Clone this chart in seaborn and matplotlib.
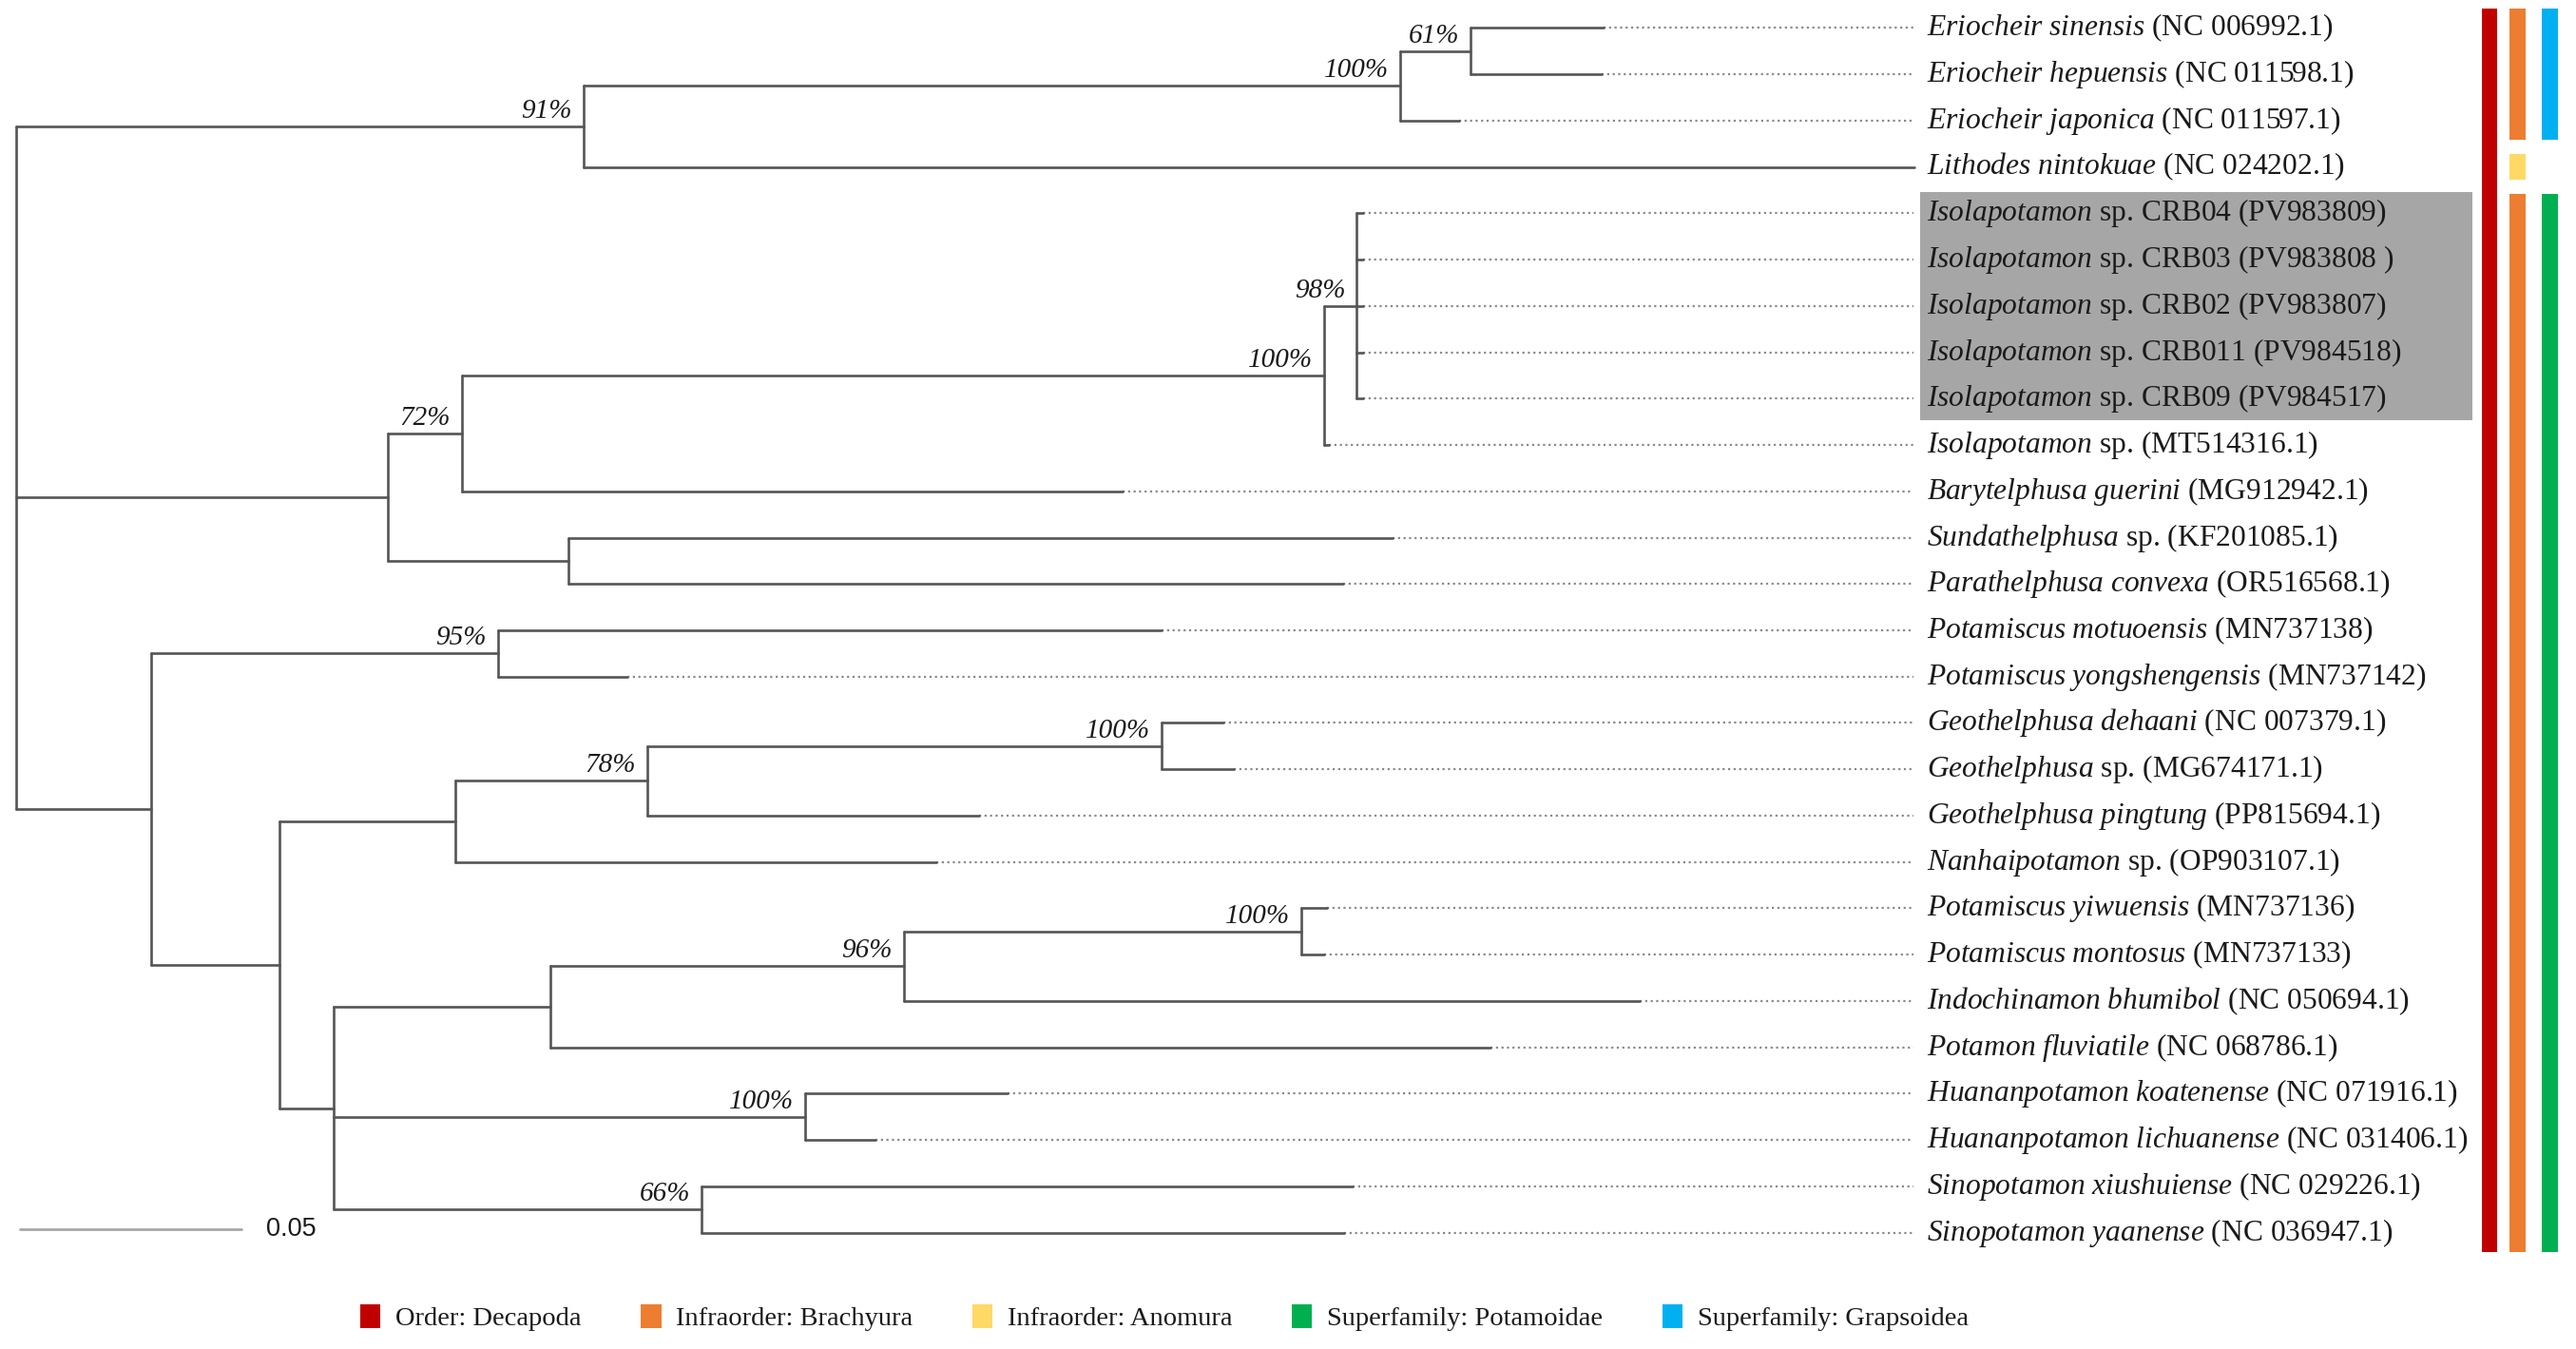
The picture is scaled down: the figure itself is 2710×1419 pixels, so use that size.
import matplotlib
matplotlib.use('Agg')
import pandas as pd
import matplotlib.pyplot as plt
from matplotlib.patches import Patch, Rectangle
import seaborn as sns

# internal nodes of the tree (parents listed before children), branch length in subst./site
node_names = ['root', 'n91', 'n_erio', 'n61', 'n_ib', 'n72', 'n_iso', 'n98', 'n_sunda',
              'n_pot', 'n95', 'n_rest', 'n_gn', 'n78', 'n_geo2', 'n_tri', 'n_pi', 'n96',
              'n_pyiw', 'n_huan', 'n66']
node_parents = [None, 'root', 'n91', 'n_erio', 'root', 'n_ib', 'n72', 'n_iso', 'n_ib',
                'root', 'n_pot', 'n_pot', 'n_rest', 'n_gn', 'n78', 'n_rest', 'n_tri', 'n_pi',
                'n96', 'n_tri', 'n_tri']
node_lengths = [0.0, 0.1278, 0.1841, 0.0159, 0.0837, 0.0167, 0.1944, 0.0074, 0.0407,
                0.0304, 0.0781, 0.0289, 0.0396, 0.0433, 0.1159, 0.0122, 0.0489, 0.0796,
                0.0896, 0.1063, 0.0830]
node_support = ['', '91%', '100%', '61%', '', '72%', '100%', '98%', '',
                '', '95%', '', '', '78%', '100%', '', '', '96%',
                '100%', '100%', '66%']

# tips, top to bottom
tip_italic = ['Eriocheir sinensis', 'Eriocheir hepuensis', 'Eriocheir japonica',
              'Lithodes nintokuae', 'Isolapotamon', 'Isolapotamon', 'Isolapotamon',
              'Isolapotamon', 'Isolapotamon', 'Isolapotamon', 'Barytelphusa guerini',
              'Sundathelphusa', 'Parathelphusa convexa', 'Potamiscus motuoensis',
              'Potamiscus yongshengensis', 'Geothelphusa dehaani', 'Geothelphusa',
              'Geothelphusa pingtung', 'Nanhaipotamon', 'Potamiscus yiwuensis',
              'Potamiscus montosus', 'Indochinamon bhumibol', 'Potamon fluviatile',
              'Huananpotamon koatenense', 'Huananpotamon lichuanense',
              'Sinopotamon xiushuiense', 'Sinopotamon yaanense']
tip_rest = ['(NC 006992.1)', '(NC 011598.1)', '(NC 011597.1)', '(NC 024202.1)',
            'sp. CRB04 (PV983809)', 'sp. CRB03 (PV983808 )', 'sp. CRB02 (PV983807)',
            'sp. CRB011 (PV984518)', 'sp. CRB09 (PV984517)', 'sp. (MT514316.1)',
            '(MG912942.1)', 'sp. (KF201085.1)', '(OR516568.1)', '(MN737138)',
            '(MN737142)', '(NC 007379.1)', 'sp. (MG674171.1)', '(PP815694.1)',
            'sp. (OP903107.1)', '(MN737136)', '(MN737133)', '(NC 050694.1)',
            '(NC 068786.1)', '(NC 071916.1)', '(NC 031406.1)', '(NC 029226.1)',
            '(NC 036947.1)']
tip_parents = ['n61', 'n61', 'n_erio', 'n91', 'n98', 'n98', 'n98', 'n98', 'n98', 'n_iso',
               'n72', 'n_sunda', 'n_sunda', 'n95', 'n95', 'n_geo2', 'n_geo2', 'n78', 'n_gn',
               'n_pyiw', 'n_pyiw', 'n96', 'n_pi', 'n_huan', 'n_huan', 'n66', 'n66']
tip_lengths = [0.0300, 0.0296, 0.0133, 0.3000, 0.0015, 0.0015, 0.0015, 0.0015, 0.0015,
               0.0011, 0.1489, 0.1859, 0.1748, 0.1496, 0.0293, 0.0141, 0.0163, 0.0748,
               0.1085, 0.0059, 0.0052, 0.1659, 0.2119, 0.0456, 0.0159, 0.1467, 0.1448]

# taxonomy bars on the right
bar_groups = ['Order: Decapoda', 'Infraorder: Brachyura', 'Infraorder: Brachyura',
              'Infraorder: Anomura', 'Superfamily: Grapsoidea', 'Superfamily: Potamoidae']
bar_first = [0, 0, 4, 3, 0, 4]
bar_last = [26, 2, 26, 3, 2, 26]
bar_column = [0, 1, 1, 1, 2, 2]
legend_order = ['Order: Decapoda', 'Infraorder: Brachyura', 'Infraorder: Anomura',
                'Superfamily: Potamoidae', 'Superfamily: Grapsoidea']
group_colors = {'Order: Decapoda': '#C00000', 'Infraorder: Brachyura': '#ED7D31',
                'Infraorder: Anomura': '#FFD966', 'Superfamily: Potamoidae': '#00B050',
                'Superfamily: Grapsoidea': '#00B0F0'}
highlight_rows = (4, 8)
scale_len = 0.05

# ---------------------------------------------------------------- layout
SCALE = 0.05 / 135          # substitutions per (reduced) pixel
W, H = 1568, 821
ROW0, ROWH = 17, 28.2
DOT_END = 1155 * SCALE
LABEL_X = 1163 * SCALE

sns.set_theme(style='white')
plt.rcParams['font.family'] = ['Liberation Serif', 'DejaVu Serif']
plt.rcParams['mathtext.fontset'] = 'custom'
plt.rcParams['mathtext.rm'] = 'Liberation Serif'
plt.rcParams['mathtext.it'] = 'Liberation Serif:italic'

# positions
xpos, ypos, children = {}, {}, {n: [] for n in node_names}
for n, p, bl in zip(node_names, node_parents, node_lengths):
    xpos[n] = 0.0 if p is None else xpos[p] + bl
    if p is not None:
        children[p].append(n)
tip_keys = ['tip%d' % i for i in range(len(tip_italic))]
for i, (k, p, bl) in enumerate(zip(tip_keys, tip_parents, tip_lengths)):
    xpos[k] = xpos[p] + bl
    ypos[k] = i
    children[p].append(k)
for n in reversed(node_names):
    ys = [ypos[c] for c in children[n]]
    ypos[n] = (min(ys) + max(ys)) / 2

parent_of = dict(zip(node_names, node_parents))
parent_of.update(dict(zip(tip_keys, tip_parents)))

rows = []
seg = 0
for n in node_names[1:] + tip_keys:
    p = parent_of[n]
    rows += [(seg, xpos[p], ypos[n], 'solid'), (seg, xpos[n], ypos[n], 'solid')]
    seg += 1
for n in node_names:
    ys = [ypos[c] for c in children[n]]
    rows += [(seg, xpos[n], min(ys), 'solid'), (seg, xpos[n], max(ys), 'solid')]
    seg += 1
for k in tip_keys:
    if xpos[k] < DOT_END - 0.0005:
        rows += [(seg, xpos[k], ypos[k], 'dotted'), (seg, DOT_END, ypos[k], 'dotted')]
        seg += 1
seg_df = pd.DataFrame(rows, columns=['seg', 'x', 'y', 'kind'])

fig = plt.figure(figsize=(27.1, 14.19), dpi=100)
ax = fig.add_axes([0, 0, 1, 1])
ax.set_xlim(-10 * SCALE, (W - 10) * SCALE)
ax.set_ylim((H - ROW0) / ROWH, -ROW0 / ROWH)
ax.axis('off')

sns.lineplot(data=seg_df[seg_df['kind'] == 'dotted'], x='x', y='y', units='seg',
             estimator=None, sort=False, color='#8a8a8a', linewidth=1.6,
             linestyle=(0, (1, 1.6)), legend=False, ax=ax)
sns.lineplot(data=seg_df[seg_df['kind'] == 'solid'], x='x', y='y', units='seg',
             estimator=None, sort=False, color='#555555', linewidth=1.9,
             legend=False, ax=ax)

# highlight box
r0, r1 = highlight_rows
ax.add_patch(Rectangle(((1169 - 10) * SCALE, r0 - 0.46), (1505 - 1169) * SCALE,
                       r1 - r0 + 0.93, facecolor='#a6a6a6', edgecolor='none', zorder=0))

# tip labels
for i, (it, rest) in enumerate(zip(tip_italic, tip_rest)):
    label = '$\\mathit{' + it.replace(' ', '\\ ') + '}$ ' + rest
    ax.text(LABEL_X, i, label, ha='left', va='center', fontsize=22.7, color='#1a1a1a')

# support values
for n, s in zip(node_names, node_support):
    if s:
        ax.text(xpos[n] - 7 * SCALE, ypos[n] - 0.06, s, ha='right', va='bottom',
                fontsize=21, style='italic', color='#1a1a1a')

# taxonomy bars
col_x = [(1515.5 - 10) * SCALE, (1532.5 - 10) * SCALE, (1552 - 10) * SCALE]
for g, a, b, c in zip(bar_groups, bar_first, bar_last, bar_column):
    pad = 0.41 if b > a else 0.28
    ax.bar(col_x[c], b - a + 2 * pad, bottom=a - pad, width=9.5 * SCALE,
           color=group_colors[g], linewidth=0)

# scale bar
sb_y = (748 - ROW0) / ROWH
ax.plot([2 * SCALE, 2 * SCALE + scale_len], [sb_y, sb_y], color='#a8a8a8', linewidth=2.0)
ax.text((162 - 10) * SCALE, sb_y, '0.05', ha='left', va='center', fontsize=19.5,
        family=['Liberation Sans', 'DejaVu Sans'], color='#1a1a1a')

# legend
handles = [Patch(facecolor=group_colors[g], edgecolor='none', label=g) for g in legend_order]
leg = fig.legend(handles=handles, ncol=5, loc='center', bbox_to_anchor=(0.452, 1 - 802 / H),
                 frameon=False, fontsize=20.5, handlelength=0.75, handleheight=1.0,
                 handletextpad=0.55, columnspacing=2.2)
for t in leg.get_texts():
    t.set_fontfamily('Liberation Serif')
    t.set_color('#1a1a1a')

fig.savefig('out.png', dpi=100)
